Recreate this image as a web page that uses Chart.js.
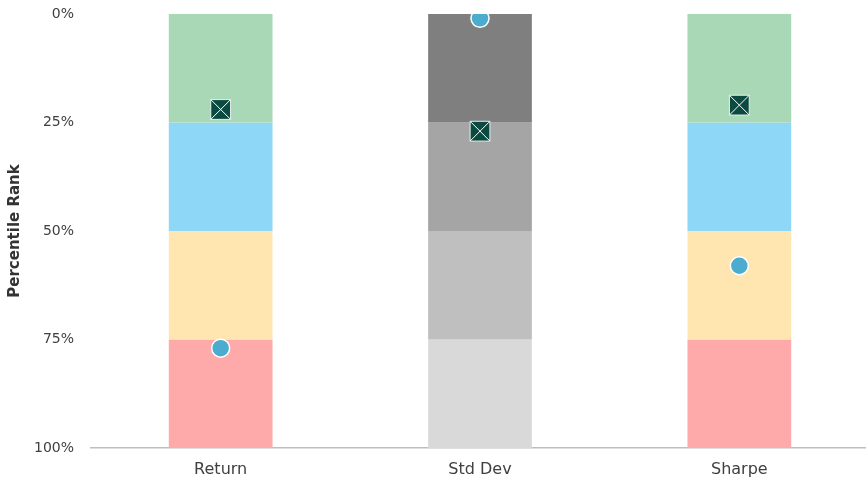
<!DOCTYPE html>
<html>
<head>
<meta charset="utf-8">
<script src="https://cdn.jsdelivr.net/npm/chart.js@4/dist/chart.umd.min.js"></script>
<style>
  html, body { margin: 0; padding: 0; background: #fff; overflow: hidden; }
  #wrap { width: 869px; height: 484px; }
</style>
</head>
<body>
<div id="wrap"><canvas id="rankChart"></canvas></div>
<script>
// --- DATA ---
const categories = ['Return', 'Std Dev', 'Sharpe'];
const quartileBands = [0.25, 0.25, 0.25, 0.25];
// colours per band (top to bottom), one entry per category
const bandColors = [
  ['#A9D8B7', '#7F7F7F', '#A9D8B7'],
  ['#8FD7F7', '#A5A5A5', '#8FD7F7'],
  ['#FFE6B1', '#BFBFBF', '#FFE6B1'],
  ['#FFAAAA', '#D9D9D9', '#FFAAAA']
];
const fundRank = [0.77, 0.01, 0.58];
const benchRank = [0.22, 0.27, 0.21];
const yTicks = [0, 0.25, 0.5, 0.75, 1];

const FONT = '"DejaVu Sans", sans-serif';

// --- DATASETS ---
const bandSets = quartileBands.map((v, i) => ({
  type: 'bar',
  label: 'Q' + (i + 1),
  data: categories.map(() => v),
  backgroundColor: bandColors[i],
  borderWidth: 0,
  barPercentage: 0.4,
  categoryPercentage: 1,
  stack: 'bands',
  order: 2
}));

const pointSets = [
  {
    type: 'line', label: 'Fund', data: fundRank, stack: 'fund', order: 0,
    showLine: false, pointStyle: 'circle', pointRadius: 9,
    pointBackgroundColor: '#4BACD0', pointBorderColor: '#fff', pointBorderWidth: 1.5
  },
  {
    type: 'line', label: 'Bench X', data: benchRank, stack: 'benchX', order: 0,
    showLine: false, pointStyle: 'crossRot', pointRadius: 14,
    pointBorderColor: '#fff', pointBorderWidth: 1
  },
  {
    type: 'line', label: 'Bench', data: benchRank, stack: 'bench', order: 1,
    showLine: false, pointStyle: 'rect', pointRadius: 14,
    pointBackgroundColor: '#0B4A40', pointBorderColor: '#E8F0EE', pointBorderWidth: 1
  }
];

// --- CHART ---
new Chart(document.getElementById('rankChart'), {
  data: { labels: categories, datasets: [...pointSets, ...bandSets] },
  options: {
    responsive: true,
    maintainAspectRatio: false,
    animation: false,
    layout: { autoPadding: false, padding: { top: 0, right: 0, left: 6, bottom: 0 } },
    plugins: { legend: { display: false }, tooltip: { enabled: false } },
    scales: {
      x: {
        stacked: true,
        grid: { display: false },
        border: { display: true, color: '#BFBFBF', width: 1.5 },
        ticks: { color: '#404040', font: { family: FONT, size: 16 }, padding: 4 },
        afterFit: s => { s.height = 36; s.paddingLeft = 0; s.paddingRight = 0; }
      },
      y: {
        stacked: true,
        reverse: true,
        min: 0,
        max: 1,
        afterBuildTicks: axis => { axis.ticks = yTicks.map(v => ({ value: v })); },
        afterFit: s => { s.width = 85; s.paddingTop = 14; s.paddingBottom = 0; },
        grid: { display: false },
        border: { display: false },
        ticks: {
          color: '#404040',
          font: { family: FONT, size: 14 },
          padding: 9,
          callback: v => Math.round(v * 100) + '%'
        },
        title: {
          display: true,
          text: 'Percentile Rank',
          color: '#333',
          font: { family: FONT, size: 15, weight: 'bold' },
          padding: { top: 0, bottom: 0 }
        }
      }
    }
  }
});
</script>
</body>
</html>
